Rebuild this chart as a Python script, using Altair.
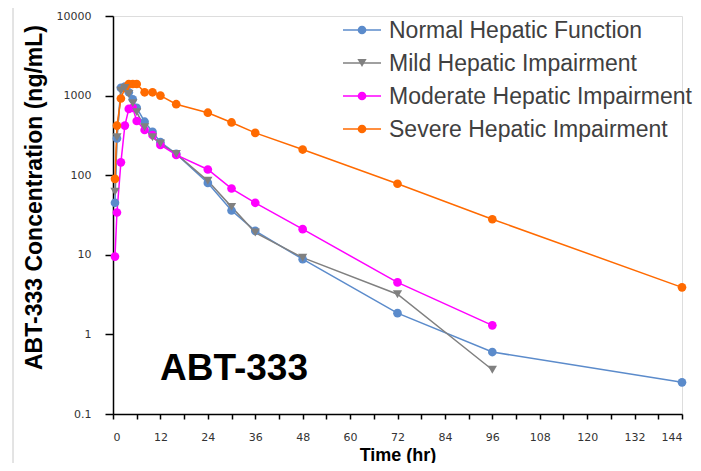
import altair as alt
import pandas as pd

series_names = ["Normal Hepatic Function", "Mild Hepatic Impairment",
                "Moderate Hepatic Impairment", "Severe Hepatic Impairment"]
series_colors = ["#5B8BCB", "#808080", "#FF00FF", "#FF6A00"]

normal_time = [0.5, 1, 2, 3, 4, 5, 6, 8, 10, 12, 16, 24, 30, 36, 48, 72, 96, 144]
normal_conc = [45, 290, 1250, 1300, 1100, 900, 700, 470, 350, 260, 185, 80, 36, 20, 8.8, 1.85, 0.6, 0.25]

mild_time = [0.5, 1, 2, 3, 4, 5, 6, 8, 10, 12, 16, 24, 30, 36, 48, 72, 96]
mild_conc = [62, 300, 1150, 1250, 1050, 800, 620, 400, 300, 250, 185, 85, 40, 19, 9.2, 3.2, 0.36]

moderate_time = [0.5, 1, 2, 3, 4, 5, 6, 8, 10, 12, 16, 24, 30, 36, 48, 72, 96]
moderate_conc = [9.5, 34, 145, 420, 680, 700, 480, 370, 320, 240, 180, 118, 68, 45, 21, 4.5, 1.3]

severe_time = [0.5, 1, 2, 3, 4, 5, 6, 8, 10, 12, 16, 24, 30, 36, 48, 72, 96, 144]
severe_conc = [90, 420, 920, 1250, 1400, 1400, 1400, 1100, 1100, 1000, 780, 610, 460, 340, 210, 78, 28, 3.9]

x_ticks = list(range(0, 145, 6))
y_ticks = [0.1, 1, 10, 100, 1000, 10000]

rows = []
for name, times, concs in zip(series_names,
                              [normal_time, mild_time, moderate_time, severe_time],
                              [normal_conc, mild_conc, moderate_conc, severe_conc]):
    for t, c in zip(times, concs):
        rows.append({"series": name, "time": t, "conc": c})
df = pd.DataFrame(rows)
legend_df = pd.DataFrame({"series": series_names})

MILD = "Mild Hepatic Impairment"

x_enc = alt.X("time:Q", scale=alt.Scale(domain=[0, 144], nice=False),
              axis=alt.Axis(values=x_ticks, labelExpr="datum.value % 12 == 0 ? datum.label : ''",
                            title="Time (hr)", grid=False, domainColor="black", domainWidth=1.5,
                            tickColor="black", tickSize=5, tickWidth=1.5, labelPadding=12,
                            labelFont="DejaVu Sans", labelFontSize=11, labelColor="#333333",
                            titleFont="Liberation Sans", titleFontSize=18, titleFontWeight="bold",
                            titleColor="black", titleBaseline="alphabetic", titleY=46))
y_enc = alt.Y("conc:Q", scale=alt.Scale(type="log", domain=[0.1, 10000], nice=False),
              axis=alt.Axis(values=y_ticks, format="~g", title="ABT-333 Concentration (ng/mL)",
                            grid=False, domainColor="black", domainWidth=1.5,
                            tickColor="black", tickSize=8, tickWidth=1.5, labelPadding=14,
                            labelFont="DejaVu Sans", labelFontSize=11, labelColor="#333333",
                            titleFont="Liberation Sans", titleFontSize=23, titleFontWeight="bold",
                            titleColor="black", titleX=-79, titleY=181, titleBaseline="middle"))

color_scale = alt.Scale(domain=series_names, range=series_colors)
color_enc = alt.Color("series:N", scale=color_scale, legend=None)

lines = alt.Chart(df).mark_line(strokeWidth=1.5).encode(
    x=x_enc, y=y_enc, color=color_enc, detail="series:N",
)

circle_points = alt.Chart(df).transform_filter(alt.datum.series != MILD).mark_point(
    filled=True, opacity=1, size=75, shape="circle"
).encode(x=x_enc, y=y_enc, color=color_enc)

tri_points = alt.Chart(df).transform_filter(alt.datum.series == MILD).mark_point(
    filled=True, opacity=1, size=85, shape="triangle-down"
).encode(x=x_enc, y=y_enc, color=color_enc)

# manual legend (rows placed by a point scale over the series names)
leg_y = alt.Y("series:N", scale=alt.Scale(type="point", domain=series_names, range=[14, 113], padding=0),
              axis=None)

leg_lines = alt.Chart(legend_df).mark_rule(strokeWidth=1.5).encode(
    x=alt.value(230), x2=alt.value(268), y=leg_y, color=color_enc
)
leg_circles = alt.Chart(legend_df).transform_filter(alt.datum.series != MILD).mark_point(
    filled=True, opacity=1, size=75, shape="circle"
).encode(x=alt.value(249), y=leg_y, color=color_enc)
leg_tri = alt.Chart(legend_df).transform_filter(alt.datum.series == MILD).mark_point(
    filled=True, opacity=1, size=85, shape="triangle-down"
).encode(x=alt.value(249), y=leg_y, color=color_enc)
leg_text = alt.Chart(legend_df).mark_text(
    font="Liberation Sans", fontSize=23, color="#404040", align="left", baseline="middle", dy=1
).encode(x=alt.value(276), y=leg_y, text="series:N")

label = alt.Chart(pd.DataFrame({"t": ["ABT-333"]})).mark_text(
    font="Liberation Sans", fontSize=37, fontWeight="bold", color="black", align="center", baseline="middle"
).encode(text="t:N", x=alt.value(121), y=alt.value(353))

edge = alt.Chart(pd.DataFrame({"a": [0]})).mark_rule(color="#c8c8c8", strokeWidth=1).encode(
    x=alt.value(-100), y=alt.value(-16), y2=alt.value(455)
)

data_layers = alt.layer(lines, circle_points, tri_points)
legend_layers = alt.layer(leg_lines, leg_circles, leg_tri, leg_text)

chart = alt.layer(edge, data_layers, legend_layers, label).resolve_scale(
    y="independent"
).properties(
    width=569, height=398,
    autosize=alt.AutoSizeParams(type="none"),
    padding={"left": 105, "top": 8, "right": 11, "bottom": 49},
).configure_view(stroke=None).configure(background="white")

chart.save("out.html", embed_options={"renderer": "svg", "actions": False})
